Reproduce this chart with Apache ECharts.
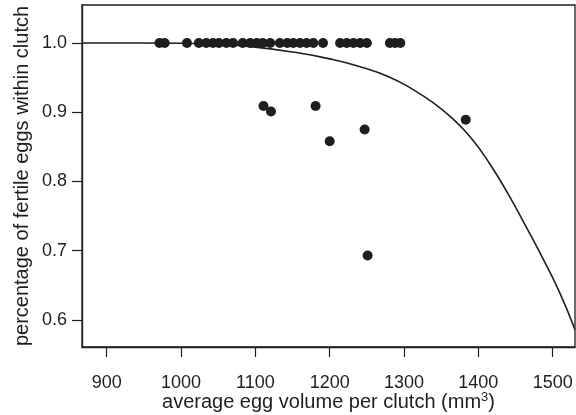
<!DOCTYPE html>
<html>
<head>
<meta charset="utf-8">
<script src="https://cdn.jsdelivr.net/npm/echarts@6/dist/echarts.min.js"></script>
<style>
html,body{margin:0;padding:0;background:#fff;}
#chart{width:576px;height:415px;}
</style>
</head>
<body>
<div id="chart"></div>
<script>
// clutches with all eggs fertile
var fullX = [971, 978, 1008, 1024, 1034, 1043, 1051, 1061, 1070, 1083, 1093, 1102, 1110,
  1120, 1133, 1143, 1151, 1160, 1169, 1178, 1191, 1214, 1223, 1232, 1241, 1250, 1281, 1288, 1295];
// the other clutches
var partX = [1111, 1121, 1181, 1200, 1247, 1251, 1383];
var partY = [0.909, 0.901, 0.909, 0.858, 0.875, 0.693, 0.889];
// fitted curve
var fitX = [867, 950, 1000, 1050, 1100, 1150, 1200, 1240, 1280, 1310, 1340, 1365, 1390, 1415, 1440, 1465, 1490, 1510, 1530];
var fitY = [1.0, 1.0, 0.9995, 0.998, 0.994, 0.987, 0.977, 0.966, 0.951, 0.934, 0.913, 0.891, 0.863, 0.826, 0.782, 0.733, 0.682, 0.638, 0.586];
var xTicks = [900, 1000, 1100, 1200, 1300, 1400, 1500];
var yTicks = [0.6, 0.7, 0.8, 0.9, 1.0];

var ink = '#1e1e1e';
var font = 'Liberation Sans, Arial, Helvetica, sans-serif';

var pts = [];
for (var i = 0; i < fullX.length; i++) pts.push([fullX[i], 1.0]);
for (var j = 0; j < partX.length; j++) pts.push([partX[j], partY[j]]);
var fit = [];
for (var k = 0; k < fitX.length; k++) fit.push([fitX[k], fitY[k]]);

var chart = echarts.init(document.getElementById('chart'));
chart.setOption({
  animation: false,
  grid: {left: 82, right: 1, top: 5, bottom: 68, outerBoundsMode: 'none', containLabel: false,
    show: true, borderColor: ink, borderWidth: 1.3},
  xAxis: {
    type: 'value', min: 866.8, max: 1530,
    name: '{a|average egg volume per clutch (mm}{s|3}{a|)}', nameLocation: 'middle', nameGap: 44,
    nameMoveOverlap: false,
    nameTextStyle: {
      fontFamily: font, fontSize: 20, color: ink,
      rich: {
        a: {fontFamily: font, fontSize: 20, color: ink, lineHeight: 22},
        s: {fontFamily: font, fontSize: 13, color: ink, verticalAlign: 'top', lineHeight: 13}
      }
    },
    axisLine: {show: true, lineStyle: {color: ink, width: 1.3}},
    axisTick: {show: true, length: 10, customValues: xTicks, lineStyle: {color: ink, width: 1.2}},
    axisLabel: {customValues: xTicks, margin: 27, fontFamily: font, fontSize: 18, color: ink,
      formatter: function (v) { return String(v); }},
    splitLine: {show: false}
  },
  yAxis: {
    type: 'value', min: 0.561, max: 1.0548,
    name: 'percentage of fertile eggs within clutch', nameLocation: 'middle', nameGap: 50,
    nameMoveOverlap: false,
    nameTextStyle: {fontFamily: font, fontSize: 20, color: ink},
    axisLine: {show: true, lineStyle: {color: ink, width: 1.3}},
    axisTick: {show: true, length: 10, customValues: yTicks, lineStyle: {color: ink, width: 1.2}},
    axisLabel: {customValues: yTicks, margin: 15, fontFamily: font, fontSize: 18, color: ink,
      formatter: function (v) { return v.toFixed(1); }},
    splitLine: {show: false}
  },
  series: [
    {type: 'line', data: fit, smooth: 0.5, symbol: 'none', clip: true,
      lineStyle: {color: ink, width: 1.6}, z: 1},
    {type: 'scatter', data: pts, symbolSize: 10, itemStyle: {color: ink, opacity: 1}, z: 2}
  ]
});
</script>
</body>
</html>
